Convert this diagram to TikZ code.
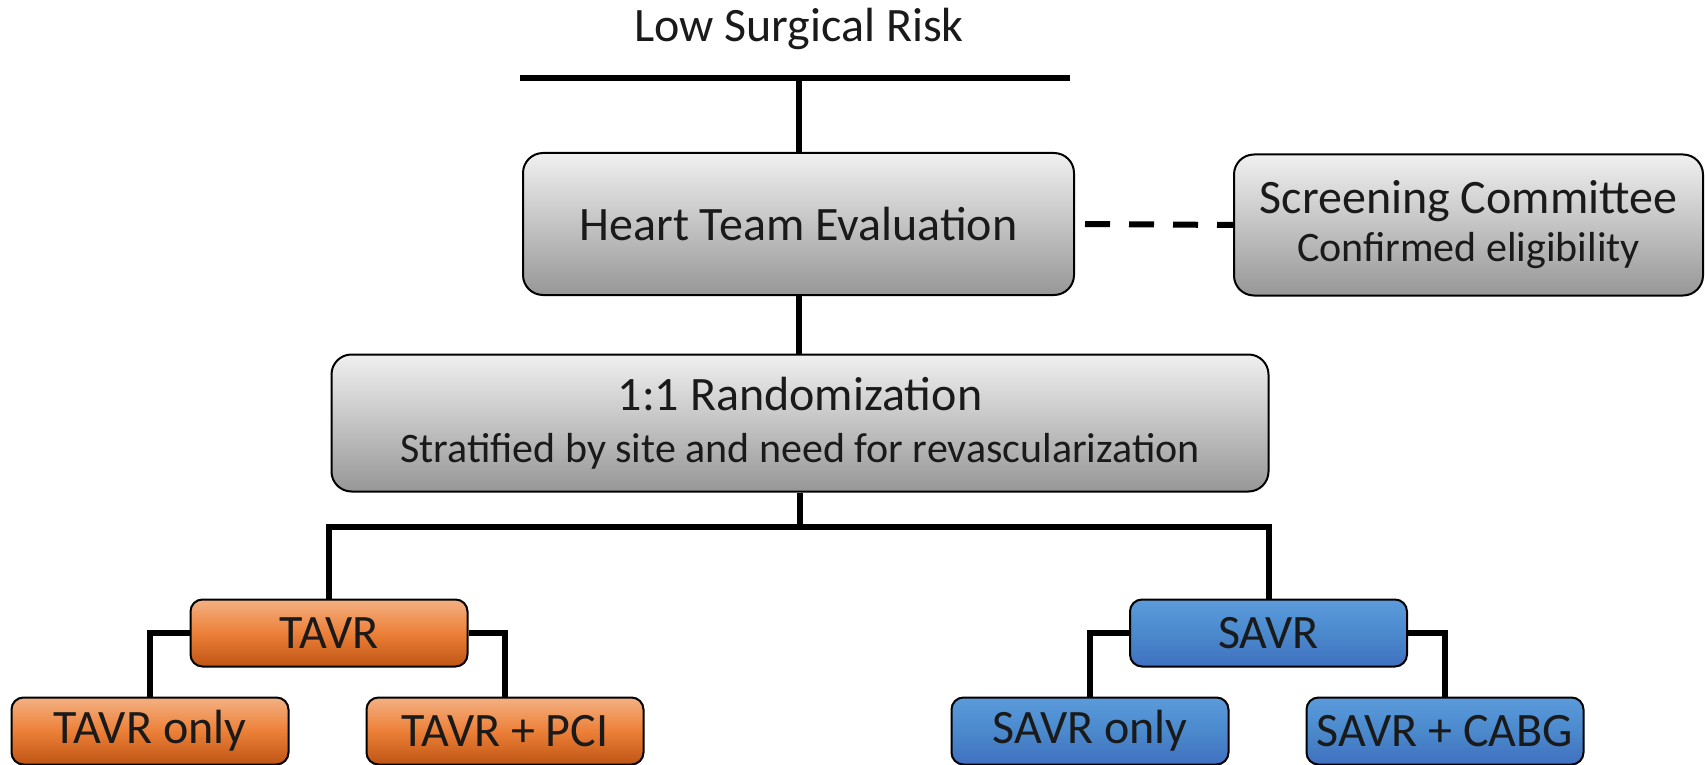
\documentclass[tikz,border=0pt]{standalone}
\usepackage{fontspec}
\setmainfont{Carlito}
\definecolor{gTop}{HTML}{F0F0F0}
\definecolor{gBot}{HTML}{979797}
\definecolor{oTop}{HTML}{F4B183}
\definecolor{oMid}{HTML}{EC8038}
\definecolor{oBot}{HTML}{BF5515}
\definecolor{bTop}{HTML}{5B9BDB}
\definecolor{bMid}{HTML}{4B89CC}
\definecolor{bBot}{HTML}{4070C0}
\definecolor{txt}{HTML}{1A1A1A}
\tikzset{
  box/.style={draw=black, line width=1pt, text=txt, inner sep=0pt, align=center},
  graybox/.style={box, rounded corners=10pt, top color=gTop, bottom color=gBot},
  obox/.style={box, rounded corners=6pt, top color=oTop, bottom color=oBot, middle color=oMid,
    minimum width=138.5pt, minimum height=33.5pt, font=\fontsize{24}{26}\selectfont},
  bbox/.style={box, rounded corners=6pt, top color=bTop, bottom color=bBot, middle color=bMid,
    minimum width=138.5pt, minimum height=33.5pt, font=\fontsize{24}{26}\selectfont},
  conn/.style={line width=3pt, draw=black},
  big/.style={font=\fontsize{24}{26}\selectfont},
}
\newcommand{\subl}[1]{{\fontsize{21}{24}\selectfont #1}}
\begin{document}
\begin{tikzpicture}[x=0.5pt,y=-0.5pt]
\useasboundingbox (0,0) rectangle (1705,765);
% title
\node[big, text=txt] (title) at (799,29) {Low Surgical Risk};
\coordinate (tl) at (520,78);
\coordinate (tr) at (1070,78);
\draw[conn] (tl) -- (tr);
% boxes
\node[graybox, big, minimum width=275.5pt, minimum height=71pt] (heart) at (798.5,224) {Heart Team Evaluation};
\node[graybox, big, minimum width=234.5pt, minimum height=70.5pt] (screen) at (1468.5,225)
  {Screening Committee\\[-2pt]\subl{Confirmed eligibility}};
\node[graybox, big, minimum width=468.5pt, minimum height=68.5pt] (rand) at (800,423)
  {1:1 Randomization\\[0pt]\subl{Stratified by site and need for revascularization}};
\node[obox] (tavr) at (329,633) {TAVR};
\node[bbox] (savr) at (1268.5,633) {SAVR};
\node[obox] (tonly) at (150,731) {TAVR only};
\node[obox] (tpci) at (505,731) {TAVR + PCI};
\node[bbox] (sonly) at (1090,731) {SAVR only};
\node[bbox] (scabg) at (1445,731) {SAVR + CABG};
\coordinate (bar) at (800,527);
% connectors
\draw[conn] (heart.north) -- (heart.north |- tl);
\draw[conn] (heart.south) -- (heart.south |- rand.north);
\draw[conn, dashed, dash pattern=on 12.5pt off 9.5pt] ([xshift=5pt]heart.east) -- (screen.west);
\draw[conn] (rand.south) -- (bar);
\draw[conn] (tavr.north) |- (bar) -| (savr.north);
\draw[conn] (tavr.west) -| (tonly.north);
\draw[conn] (tavr.east) -| (tpci.north);
\draw[conn] (savr.west) -| (sonly.north);
\draw[conn] (savr.east) -| (scabg.north);
\end{tikzpicture}
\end{document}
